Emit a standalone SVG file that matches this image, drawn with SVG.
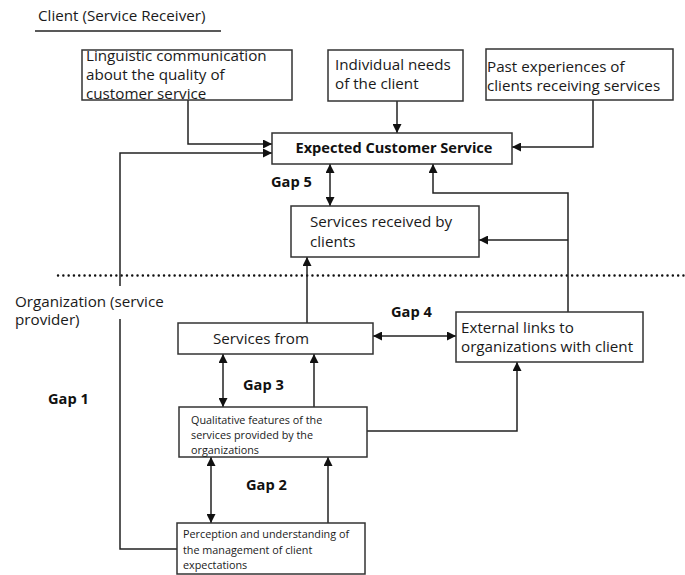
<svg xmlns="http://www.w3.org/2000/svg" width="685" height="575" viewBox="0 0 685 575">
<defs>
<marker id="ah" viewBox="0 0 10 10" refX="10" refY="5" markerWidth="9" markerHeight="9" markerUnits="userSpaceOnUse" orient="auto-start-reverse">
<path d="M0,0 L10,5 L0,10 z" fill="#111"/>
</marker>
<style>
.box{fill:#fff;stroke:#333;stroke-width:1.5}
.t{font-family:"Open Sans","DejaVu Sans",sans-serif;font-size:15.2px;fill:#1a1a1a}
.s{font-family:"Open Sans","DejaVu Sans",sans-serif;font-size:10.8px;fill:#1a1a1a}
.b{font-family:"Open Sans","DejaVu Sans",sans-serif;font-size:14.6px;font-weight:bold;fill:#111}
.c{fill:none;stroke:#222;stroke-width:1.5}
.a{marker-end:url(#ah)}
.d{marker-start:url(#ah);marker-end:url(#ah)}
</style>
</defs>
<rect width="685" height="575" fill="#fff"/>

<g id="header">
<text class="t" x="38" y="21">Client (Service Receiver)</text>
<line x1="35" y1="31" x2="221" y2="31" stroke="#222" stroke-width="1.5"/>
</g>
<g id="divider">
<line x1="58" y1="275.5" x2="685" y2="275.5" stroke="#111" stroke-width="2.4" stroke-dasharray="0.1 5.2" stroke-linecap="round"/>
<text class="t" x="15" y="307">Organization (service</text>
<text class="t" x="15" y="325">provider)</text>
</g>

<g id="connectors">
<path class="c a" d="M188,100 V144 H272"/>
<path class="c a" d="M120,286 V153 H272"/>
<path class="c" d="M120,319 V549 H177"/>
<path class="c a" d="M397,101 V133"/>
<path class="c a" d="M593,100 V147 H512"/>
<path class="c d" d="M330,164 V206"/>
<path class="c a" d="M568,312 V193 H433 V164"/>
<path class="c a" d="M568,240 H479"/>
<path class="c a" d="M307,323 V257"/>
<path class="c d" d="M373,336 H456"/>
<path class="c d" d="M223,354 V407"/>
<path class="c a" d="M314,407 V354"/>
<path class="c a" d="M367,431 H517 V362"/>
<path class="c d" d="M211,457 V523"/>
<path class="c a" d="M328,523 V457"/>
</g>

<g id="linguistic">
<rect class="box" x="82" y="50" width="210" height="50"/>
<text class="t" x="86" y="61">Linguistic communication</text>
<text class="t" x="86" y="79.5">about the quality of</text>
<text class="t" x="86" y="98.5">customer service</text>
</g>
<g id="individual">
<rect class="box" x="328" y="50" width="135" height="51"/>
<text class="t" x="335" y="70">Individual needs</text>
<text class="t" x="335" y="89">of the client</text>
</g>
<g id="past">
<rect class="box" x="486" y="49" width="187" height="51"/>
<text class="t" x="487" y="72">Past experiences of</text>
<text class="t" x="487" y="91">clients receiving services</text>
</g>
<g id="expected">
<rect class="box" x="272" y="133" width="240" height="31"/>
<text class="b" x="394" y="153" text-anchor="middle">Expected Customer Service</text>
</g>
<g id="gap5"><text class="b" x="271" y="187">Gap 5</text></g>
<g id="received">
<rect class="box" x="291" y="206" width="188" height="51"/>
<text class="t" x="310" y="227">Services received by</text>
<text class="t" x="310" y="246.5">clients</text>
</g>
<g id="gap4"><text class="b" x="391" y="317">Gap 4</text></g>
<g id="servicesfrom">
<rect class="box" x="178" y="323" width="195" height="31"/>
<text class="t" x="213" y="344">Services from</text>
</g>
<g id="external">
<rect class="box" x="456" y="312" width="187" height="50"/>
<text class="t" x="461" y="333">External links to</text>
<text class="t" x="461" y="352">organizations with client</text>
</g>
<g id="gap3"><text class="b" x="243" y="390">Gap 3</text></g>
<g id="gap1"><text class="b" x="48" y="404">Gap 1</text></g>
<g id="qualitative">
<rect class="box" x="179" y="407" width="188" height="50"/>
<text class="s" x="191" y="424">Qualitative features of the</text>
<text class="s" x="191" y="439">services provided by the</text>
<text class="s" x="191" y="454">organizations</text>
</g>
<g id="gap2"><text class="b" x="246" y="490">Gap 2</text></g>
<g id="perception">
<rect class="box" x="177" y="523" width="188" height="51"/>
<text class="s" x="183" y="538">Perception and understanding of</text>
<text class="s" x="183" y="554">the management of client</text>
<text class="s" x="183" y="569">expectations</text>
</g>
</svg>
